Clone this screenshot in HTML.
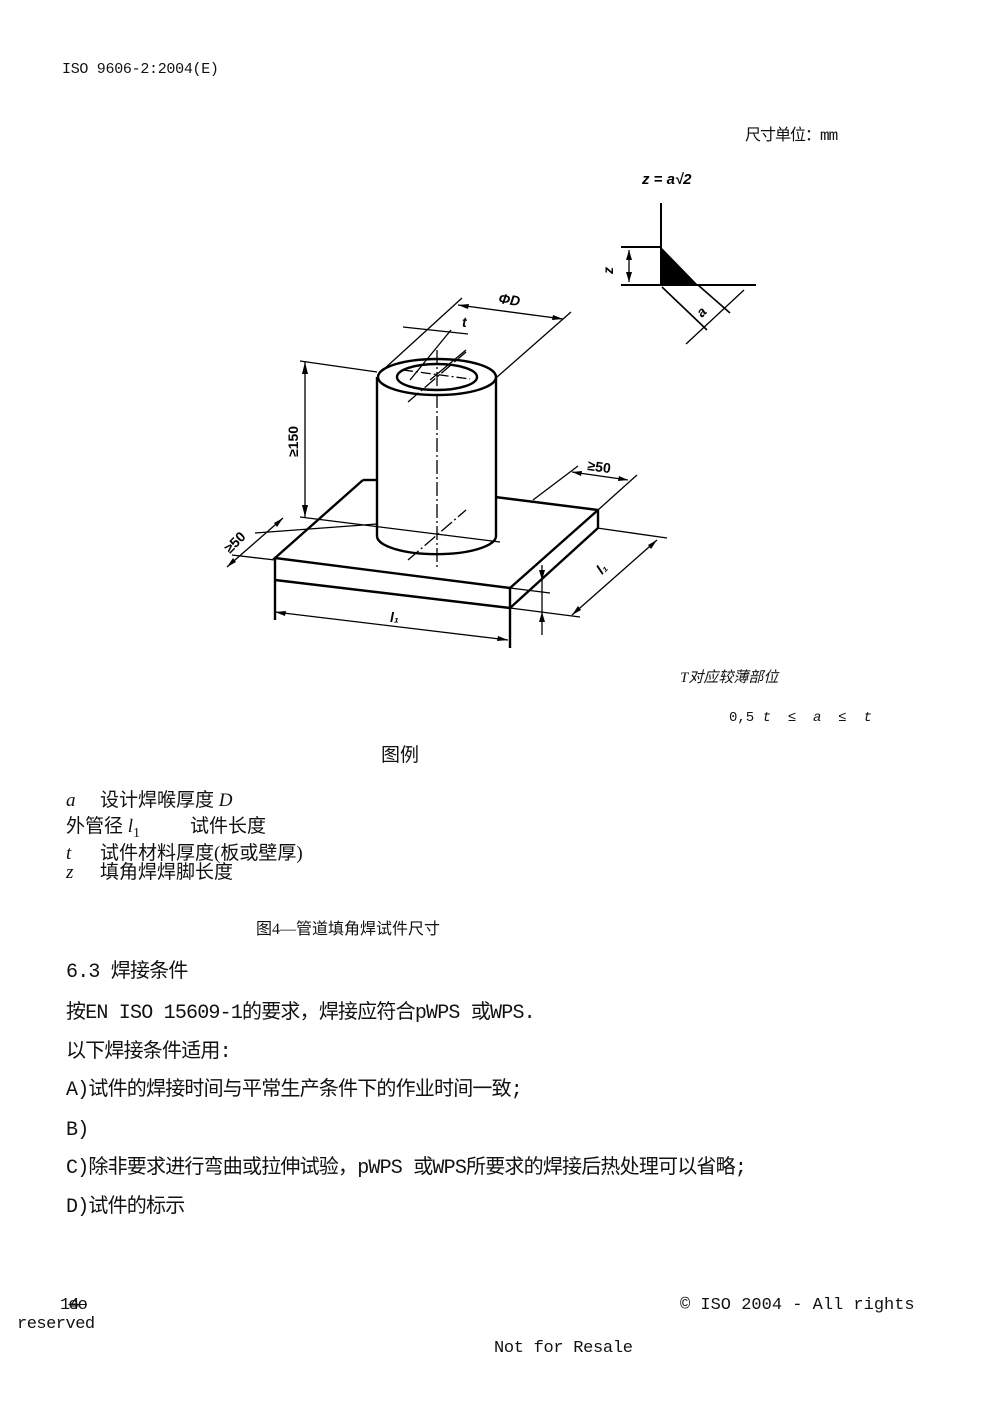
<!DOCTYPE html>
<html><head><meta charset="utf-8"><style>
html,body{margin:0;padding:0;background:#fff;}
body{width:992px;height:1403px;position:relative;overflow:hidden;font-family:"Liberation Serif","Noto Serif CJK SC","Noto Sans CJK SC",serif;color:#111;}
.t{position:absolute;white-space:nowrap;line-height:1;}
.m{font-family:"Liberation Mono","Noto Sans CJK SC",monospace;}
.b{font-family:"Liberation Mono","Noto Sans CJK SC",monospace;font-size:20px;letter-spacing:-0.8px;}
.s{font-family:"Liberation Serif","Noto Sans CJK SC",serif;}
i{font-style:italic;}
</style></head><body>
<div class="t m" style="left:62px;top:62px;font-size:15px;letter-spacing:-0.3px;">ISO 9606-2:2004(E)</div>
<div class="t m" style="left:745px;top:128px;font-size:16px;letter-spacing:-1px;">尺寸单位：mm</div>

<svg style="position:absolute;left:0;top:0" width="992" height="700" viewBox="0 0 992 700">
<g fill="none" stroke="#000" stroke-width="1.3">
<line x1="661" y1="203" x2="661" y2="285" stroke-width="2"/>
<line x1="621" y1="285" x2="756" y2="285" stroke-width="2"/>
<line x1="621" y1="247" x2="661" y2="247" stroke-width="2"/>
<line x1="629" y1="250" x2="629" y2="282"/>
<line x1="662" y1="287" x2="707" y2="330" stroke-width="1.6"/>
<line x1="698" y1="285" x2="730" y2="313" stroke-width="1.6"/>
<line x1="744" y1="290" x2="686" y2="344"/>
<polyline points="363,480 275,558 510,588 598,510" stroke-width="2.4"/>
<line x1="363" y1="480" x2="377" y2="480" stroke-width="2.4"/>
<line x1="495" y1="497" x2="598" y2="510" stroke-width="2.4"/>
<line x1="275" y1="558" x2="275" y2="620" stroke-width="2.4"/>
<line x1="275" y1="580" x2="510" y2="608" stroke-width="2.4"/>
<line x1="510" y1="588" x2="510" y2="648" stroke-width="2.4"/>
<line x1="598" y1="510" x2="598" y2="528" stroke-width="2.4"/>
<line x1="510" y1="608" x2="598" y2="528" stroke-width="2.4"/>
<ellipse cx="437" cy="377" rx="59" ry="18" stroke-width="2.4"/>
<ellipse cx="437" cy="377" rx="40" ry="13" stroke-width="2.4"/>
<line x1="377" y1="377" x2="377" y2="536" stroke-width="2.4"/>
<line x1="496" y1="377" x2="496" y2="536" stroke-width="2.4"/>
<path d="M377,536 A59,18 0 0 0 496,536" stroke-width="2.4"/>
<line x1="437" y1="350" x2="437" y2="567" stroke-dasharray="14,3,2,3"/>
<line x1="408" y1="402" x2="466" y2="352" stroke-dasharray="14,3,2,3"/>
<line x1="408" y1="560" x2="466" y2="510" stroke-dasharray="14,3,2,3"/>
<line x1="403" y1="370" x2="470" y2="379" stroke-dasharray="10,3,2,3"/>
<line x1="300" y1="361" x2="377" y2="372"/>
<line x1="300" y1="517" x2="500" y2="542"/>
<line x1="305" y1="362" x2="305" y2="517"/>
<line x1="383" y1="370" x2="462" y2="298"/>
<line x1="497" y1="377" x2="571" y2="312"/>
<line x1="458" y1="305" x2="563" y2="319"/>
<line x1="403" y1="327" x2="468" y2="334"/>
<line x1="410" y1="380" x2="451" y2="330"/>
<line x1="430" y1="380" x2="466" y2="350"/>
<line x1="533" y1="500" x2="578" y2="466"/>
<line x1="598" y1="510" x2="637" y2="475"/>
<line x1="572" y1="472" x2="628" y2="480"/>
<line x1="227" y1="567" x2="283" y2="518"/>
<line x1="232" y1="555" x2="275" y2="560"/>
<line x1="255" y1="533" x2="377" y2="524"/>
<line x1="275" y1="612" x2="508" y2="640"/>
<line x1="597" y1="528" x2="667" y2="538"/>
<line x1="510" y1="608" x2="580" y2="617"/>
<line x1="572" y1="615" x2="657" y2="540"/>
<line x1="510" y1="588" x2="550" y2="593"/>
<line x1="542" y1="565" x2="542" y2="635"/>
</g>
<g fill="#000">
<polygon points="661,247 661,285 698,285"/>
<polygon points="305,362 302,374 308,374"/><polygon points="305,517 302,505 308,505"/>
<polygon points="458,305 469,304 468,309"/><polygon points="563,319 552,320 553,315"/>
<polygon points="629,250 626,260 632,260"/><polygon points="629,282 626,272 632,272"/>
<polygon points="572,472 582,471 581,476"/><polygon points="628,480 618,481 619,476"/>
<polygon points="227,567 233,558 236,562"/><polygon points="283,518 277,527 274,523"/>
<polygon points="275,612 286,611 285,616"/><polygon points="508,640 497,641 498,636"/>
<polygon points="572,615 578,606 581,610"/><polygon points="657,540 651,549 648,545"/>
<polygon points="542,580 539,570 545,570"/><polygon points="542,612 539,622 545,622"/>
</g>
<g font-family="Liberation Sans, sans-serif" font-weight="bold" font-style="italic" font-size="14" fill="#000">
<text x="642" y="184" font-size="15">z = a√2</text>
<text x="498" y="303" transform="rotate(8 498 303)">ΦD</text>
<text x="462" y="327">t</text>
<text x="298" y="457" transform="rotate(-90 298 457)" font-style="normal">≥150</text>
<text x="587" y="470" transform="rotate(8 587 470)" font-style="normal">≥50</text>
<text x="230" y="554" transform="rotate(-45 230 554)" font-style="normal">≥50</text>
<text x="390" y="622">l₁</text>
<text x="602" y="575" transform="rotate(-45 602 575)">l₁</text>
<text x="613" y="274" transform="rotate(-90 613 274)">z</text>
<text x="702" y="318" transform="rotate(-45 702 318)">a</text>
</g>
</svg>

<div class="t s" style="left:680px;top:671px;font-size:15px;font-style:italic;">T对应较薄部位</div>
<div class="t m" style="left:729px;top:711px;font-size:14px;">0,5 <i>t</i> &nbsp;≤ &nbsp;<i>a</i> &nbsp;≤ &nbsp;<i>t</i></div>
<div class="t s" style="left:381px;top:746px;font-size:19px;">图例</div>
<div class="t s" style="left:66px;top:791px;font-size:19px;"><i>a</i><span style="position:absolute;left:34px;">设计焊喉厚度 <i>D</i></span></div>
<div class="t s" style="left:66px;top:817px;font-size:19px;">外管径 <i>l</i><sub style="font-size:14px">1</sub><span style="position:absolute;left:124px;">试件长度</span></div>
<div class="t s" style="left:66px;top:844px;font-size:19px;"><i>t</i><span style="position:absolute;left:34px;">试件材料厚度(板或壁厚)</span></div>
<div class="t s" style="left:66px;top:863px;font-size:19px;"><i>z</i><span style="position:absolute;left:34px;">填角焊焊脚长度</span></div>
<div class="t s" style="left:256px;top:922px;font-size:16px;">图4—管道填角焊试件尺寸</div>
<div class="t b" style="left:66px;top:963px;">6.3 焊接条件</div>
<div class="t b" style="left:66px;top:1004px;">按EN ISO 15609-1的要求，焊接应符合pWPS 或WPS.</div>
<div class="t b" style="left:66px;top:1043px;">以下焊接条件适用:</div>
<div class="t b" style="left:66px;top:1081px;">A)试件的焊接时间与平常生产条件下的作业时间一致;</div>
<div class="t b" style="left:66px;top:1121px;">B)</div>
<div class="t b" style="left:66px;top:1159px;">C)除非要求进行弯曲或拉伸试验，pWPS 或WPS所要求的焊接后热处理可以省略;</div>
<div class="t b" style="left:66px;top:1198px;">D)试件的标示</div>
<div class="t m" style="left:60px;top:1297px;font-size:17px;letter-spacing:-1px;">14<span style="margin-left:-10px;text-decoration:line-through">eo</span></div>
<div class="t m" style="left:680px;top:1297px;font-size:17px;letter-spacing:0px;">© ISO 2004 - All rights</div>
<div class="t m" style="left:17px;top:1316px;font-size:17px;letter-spacing:-0.5px;">reserved</div>
<div class="t m" style="left:494px;top:1340px;font-size:17px;letter-spacing:-0.3px;">Not for Resale</div>
</body></html>
